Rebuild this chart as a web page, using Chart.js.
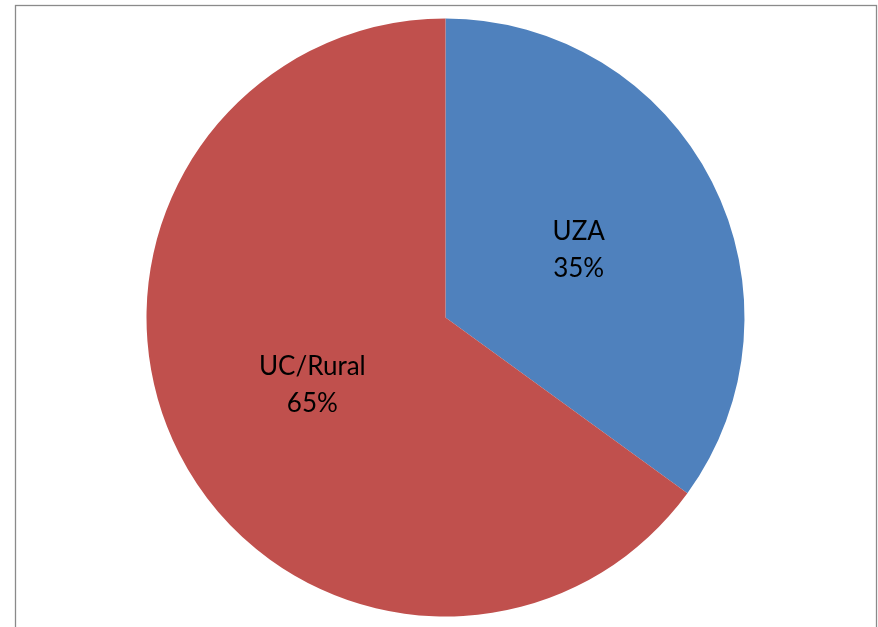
<!DOCTYPE html>
<html>
<head>
<meta charset="utf-8">
<script src="https://cdn.jsdelivr.net/npm/chart.js@4/dist/chart.umd.min.js"></script>
<style>
  html, body { margin: 0; padding: 0; background: #ffffff; }
  #wrap { width: 878px; height: 627px; position: relative; }
</style>
</head>
<body>
<div id="wrap"><canvas id="c" width="878" height="627"></canvas></div>
<script>
const categories = ['UZA', 'UC/Rural'];
const percentages = [35, 65];
const sliceColors = ['#4F81BD', '#C0504D'];

const frameAndLabels = {
  id: 'frameAndLabels',
  beforeDraw(chart) {
    const ctx = chart.ctx;
    ctx.save();
    ctx.fillStyle = '#ffffff';
    ctx.fillRect(0, 0, chart.width, chart.height);
    ctx.strokeStyle = '#8a8a8a';
    ctx.lineWidth = 1.3;
    ctx.strokeRect(15.5, 5.5, 861, 700);
    ctx.restore();
  },
  afterDatasetsDraw(chart) {
    const ctx = chart.ctx;
    const meta = chart.getDatasetMeta(0);
    ctx.save();
    ctx.fillStyle = '#000000';
    ctx.font = '26px Lato, "Open Sans", sans-serif';
    ctx.textAlign = 'center';
    ctx.textBaseline = 'middle';
    meta.data.forEach((arc, i) => {
      const p = arc.tooltipPosition();
      ctx.fillText(categories[i], p.x, p.y - 18.5);
      ctx.fillText(percentages[i] + '%', p.x, p.y + 18.5);
    });
    ctx.restore();
  }
};

new Chart(document.getElementById('c'), {
  type: 'pie',
  data: {
    labels: categories,
    datasets: [{
      data: percentages,
      backgroundColor: sliceColors,
      borderWidth: 0
    }]
  },
  options: {
    responsive: false,
    animation: false,
    layout: { padding: { left: 13, right: 0, top: 18.5, bottom: 10.5 } },
    plugins: {
      legend: { display: false },
      tooltip: { enabled: false }
    }
  },
  plugins: [frameAndLabels]
});
</script>
</body>
</html>
